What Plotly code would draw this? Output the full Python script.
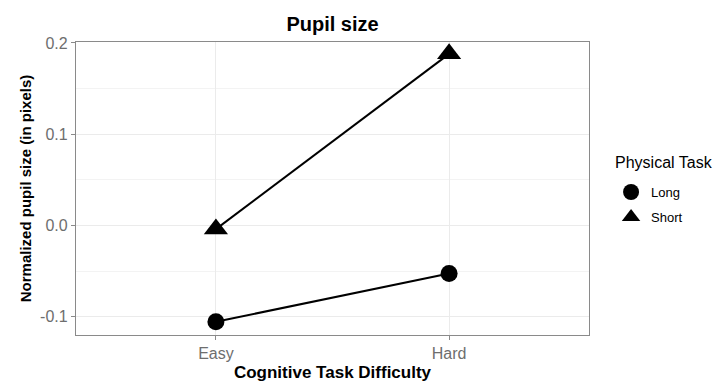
import plotly.graph_objects as go

categories = ["Easy", "Hard"]
long_vals = [-0.1055, -0.0527]
short_vals = [-0.004, 0.188]
series_names = ["Long", "Short"]
legend_title = "Physical Task"
y_ticks = [-0.1, 0.0, 0.1, 0.2]
y_ticktext = ["-0.1", "0.0", "0.1", "0.2"]

FONT = "Liberation Sans, Arial, sans-serif"

fig = go.Figure()
series = [(series_names[0], long_vals, "circle", 17), (series_names[1], short_vals, "triangle-up", 21)]
for name, vals, sym, sz in series:
    fig.add_trace(go.Scatter(
        x=categories, y=vals, name=name, mode="lines",
        line=dict(color="black", width=2), showlegend=False, hoverinfo="skip",
    ))
for name, vals, sym, sz in series:
    fig.add_trace(go.Scatter(
        x=categories, y=vals, name=name, mode="markers", legendgroup=name,
        marker=dict(symbol=sym, size=sz, color="black"),
    ))

grid = "#ebebeb"
fig.update_layout(
    width=720, height=392,
    margin=dict(l=76, r=131, t=42, b=57),
    paper_bgcolor="white", plot_bgcolor="white",
    font=dict(family=FONT, color="black"),
    title=dict(text="<b>Pupil size</b>", x=(76 + 513 / 2) / 720, xanchor="center",
               y=1 - 24 / 392, yanchor="middle", font=dict(size=20, color="black")),
    xaxis=dict(
        type="category", range=[-0.6, 1.6],
        showgrid=True, gridcolor=grid, gridwidth=1,
        showline=True, linecolor="#8a8a8a", linewidth=1.3, mirror=True,
        ticks="outside", ticklen=4, tickcolor="#8a8a8a",
        tickfont=dict(size=16, color="#6e6e6e"),
        title=dict(text="<b>Cognitive Task Difficulty</b>", font=dict(size=17, color="black"), standoff=4),
        zeroline=False, automargin=False,
    ),
    yaxis=dict(
        range=[-0.12, 0.201],
        tickvals=y_ticks, ticktext=y_ticktext,
        showgrid=True, gridcolor=grid, gridwidth=1,
        minor=dict(tickvals=[-0.05, 0.05, 0.15], showgrid=True, gridcolor="#f3f3f3", gridwidth=1),
        showline=True, linecolor="#8a8a8a", linewidth=1.3, mirror=True,
        ticks="outside", ticklen=4, tickcolor="#8a8a8a",
        tickfont=dict(size=16, color="#6e6e6e"),
        title=dict(text="<b>Normalized pupil size (in pixels)</b>", font=dict(size=15, color="black"), standoff=4),
        zeroline=False, automargin=False,
    ),
    legend=dict(
        x=1.043, xanchor="left", y=0.539, yanchor="top",
        font=dict(size=13, color="black"),
        bgcolor="rgba(0,0,0,0)", itemsizing="trace", tracegroupgap=5,
    ),
    annotations=[dict(
        text=legend_title, xref="paper", yref="paper",
        x=(613 - 76) / 513, y=1 - (163 - 42) / 293, xanchor="left", yanchor="middle",
        showarrow=False, font=dict(size=16, color="black"),
    )],
)

fig.write_html("out.html", config={"displayModeBar": False},
               post_script="document.body.style.margin='0';document.body.style.padding='0';")
